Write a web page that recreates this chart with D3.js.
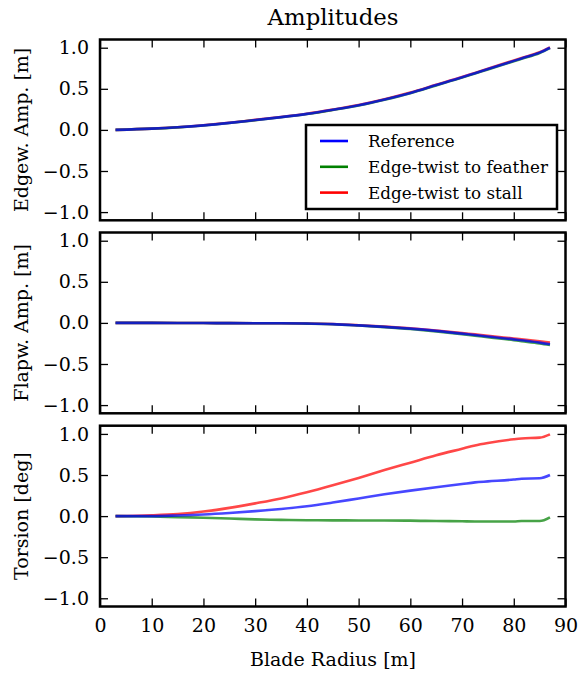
<!DOCTYPE html>
<html><head><meta charset="utf-8">
<script src="https://cdn.jsdelivr.net/npm/d3@7"></script>
</head>
<body style="margin:0;background:#fff"><svg id="c" width="579" height="674" font-family="DejaVu Serif"></svg>
<script>
const radius = [3,10,15,20,25,30,35,40,45,50,55,60,65,70,72.5,75,80,81.5,85,87];
const edgeRef     = [0,0.015,0.032,0.055,0.085,0.12,0.155,0.195,0.245,0.30,0.37,0.45,0.545,0.64,0.69,0.74,0.84,0.87,0.94,1.0];
const edgeFeather = [0,0.015,0.031,0.054,0.084,0.118,0.153,0.193,0.243,0.297,0.367,0.446,0.541,0.636,0.686,0.736,0.835,0.865,0.935,0.995];
const edgeStall   = [0,0.015,0.033,0.056,0.086,0.122,0.157,0.197,0.247,0.303,0.373,0.454,0.549,0.644,0.694,0.744,0.845,0.875,0.945,1.005];
const flapRef     = [0,0,-0.001,-0.002,-0.003,-0.004,-0.005,-0.008,-0.015,-0.03,-0.048,-0.07,-0.097,-0.13,-0.148,-0.165,-0.2,-0.212,-0.24,-0.26];
const flapFeather = [0,0,-0.001,-0.002,-0.003,-0.004,-0.005,-0.009,-0.016,-0.032,-0.051,-0.074,-0.103,-0.137,-0.156,-0.174,-0.21,-0.222,-0.25,-0.27];
const flapStall   = [0,0,-0.001,-0.002,-0.003,-0.004,-0.005,-0.007,-0.014,-0.028,-0.045,-0.066,-0.092,-0.123,-0.14,-0.156,-0.19,-0.2,-0.225,-0.24];
const torRef      = [0,0,0.008,0.02,0.038,0.06,0.087,0.12,0.165,0.215,0.265,0.31,0.352,0.39,0.41,0.422,0.445,0.455,0.46,0.50];
const torFeather  = [0,-0.005,-0.012,-0.02,-0.03,-0.04,-0.046,-0.05,-0.052,-0.053,-0.054,-0.055,-0.06,-0.063,-0.065,-0.065,-0.065,-0.06,-0.06,-0.015];
const torStall    = [0,0.01,0.025,0.055,0.1,0.155,0.215,0.29,0.375,0.465,0.56,0.65,0.74,0.82,0.86,0.89,0.935,0.945,0.955,0.995];
const seriesNames = ["Reference","Edge-twist to feather","Edge-twist to stall"];
const seriesColors = ["#0000ff","#008000","#ff0000"];
const yLabels = ["Edgew. Amp. [m]","Flapw. Amp. [m]","Torsion [deg]"];
const xTicks = [0,10,20,30,40,50,60,70,80,90];
const yTicks = [-1.0,-0.5,0.0,0.5,1.0];
const panels = [[edgeRef,edgeFeather,edgeStall],[flapRef,flapFeather,flapStall],[torRef,torFeather,torStall]];

const FONT = "DejaVu Serif";
const svg = d3.select("#c");
function fitSize(str, target){
  const t = svg.append("text").attr("font-family",FONT).attr("font-size",100).text(str);
  const w = t.node().getComputedTextLength(); t.remove();
  return 100*target/w;
}
const baseSize = fitSize("Blade Radius [m]",166);
const legSize = fitSize("Edge-twist to feather",180);
const titleSize = baseSize*1.2;

const x = d3.scaleLinear().domain([0,90]).range([100,565.5]);
const tops = [39.5,232.5,425.7], H = 180.8;
const fmt = d3.format(".1f");
const drawOrder = [2,1,0];

panels.forEach((p,i)=>{
  const y = d3.scaleLinear().domain([-1.1,1.1]).range([tops[i]+H,tops[i]]);
  const g = svg.append("g");
  const line = d3.line().x((d,j)=>x(radius[j])).y(d=>y(d)).curve(d3.curveMonotoneX);
  drawOrder.forEach(k=>{
    g.append("path").datum(p[k]).attr("d",line).attr("fill","none")
     .attr("stroke",seriesColors[k]).attr("stroke-opacity",0.72).attr("stroke-width",2.6);
  });
  const ax = (a,tr)=>{const e=g.append("g").attr("transform",tr).call(a);e.select(".domain").remove();
    e.attr("font-family",FONT).attr("font-size",baseSize);
    e.selectAll(".tick line").attr("stroke","#000").attr("stroke-width",1.3);
    e.selectAll("text").attr("font-family",FONT).attr("font-size",baseSize);return e;};
  ax(d3.axisLeft(y).tickValues(yTicks).tickSize(-8).tickPadding(11).tickFormat(fmt),`translate(${x(0)},0)`);
  ax(d3.axisRight(y).tickValues(yTicks).tickSize(-8).tickFormat(""),`translate(${x(90)},0)`);
  ax(d3.axisTop(x).tickValues(xTicks).tickSize(-8).tickFormat(""),`translate(0,${tops[i]})`);
  ax(d3.axisBottom(x).tickValues(xTicks).tickSize(-8).tickPadding(12).tickFormat(i===2?d3.format("d"):""),`translate(0,${tops[i]+H})`);
  g.append("rect").attr("x",x(0)).attr("y",tops[i]).attr("width",x(90)-x(0)).attr("height",H)
   .attr("fill","none").attr("stroke","#000").attr("stroke-width",2.5);
  svg.append("text").attr("transform",`translate(28,${tops[i]+H/2}) rotate(-90)`)
   .attr("font-family",FONT).attr("text-anchor","middle").attr("font-size",baseSize).text(yLabels[i]);
});

svg.append("text").attr("x",333).attr("y",25).attr("text-anchor","middle").attr("font-family",FONT).attr("font-size",titleSize).text("Amplitudes");
svg.append("text").attr("x",333).attr("y",666).attr("text-anchor","middle").attr("font-family",FONT).attr("font-size",baseSize).text("Blade Radius [m]");

const lg = svg.append("g");
lg.append("rect").attr("x",306).attr("y",125).attr("width",251).attr("height",84)
  .attr("fill","#fff").attr("stroke","#000").attr("stroke-width",2.5);
seriesNames.forEach((n,k)=>{
  const yy = 141 + k*25.8;
  lg.append("line").attr("x1",320).attr("x2",348).attr("y1",yy).attr("y2",yy)
    .attr("stroke",seriesColors[k]).attr("stroke-width",2.6);
  lg.append("text").attr("x",368).attr("y",yy+6).attr("font-family",FONT).attr("font-size",legSize).text(n);
});
</script></body></html>
